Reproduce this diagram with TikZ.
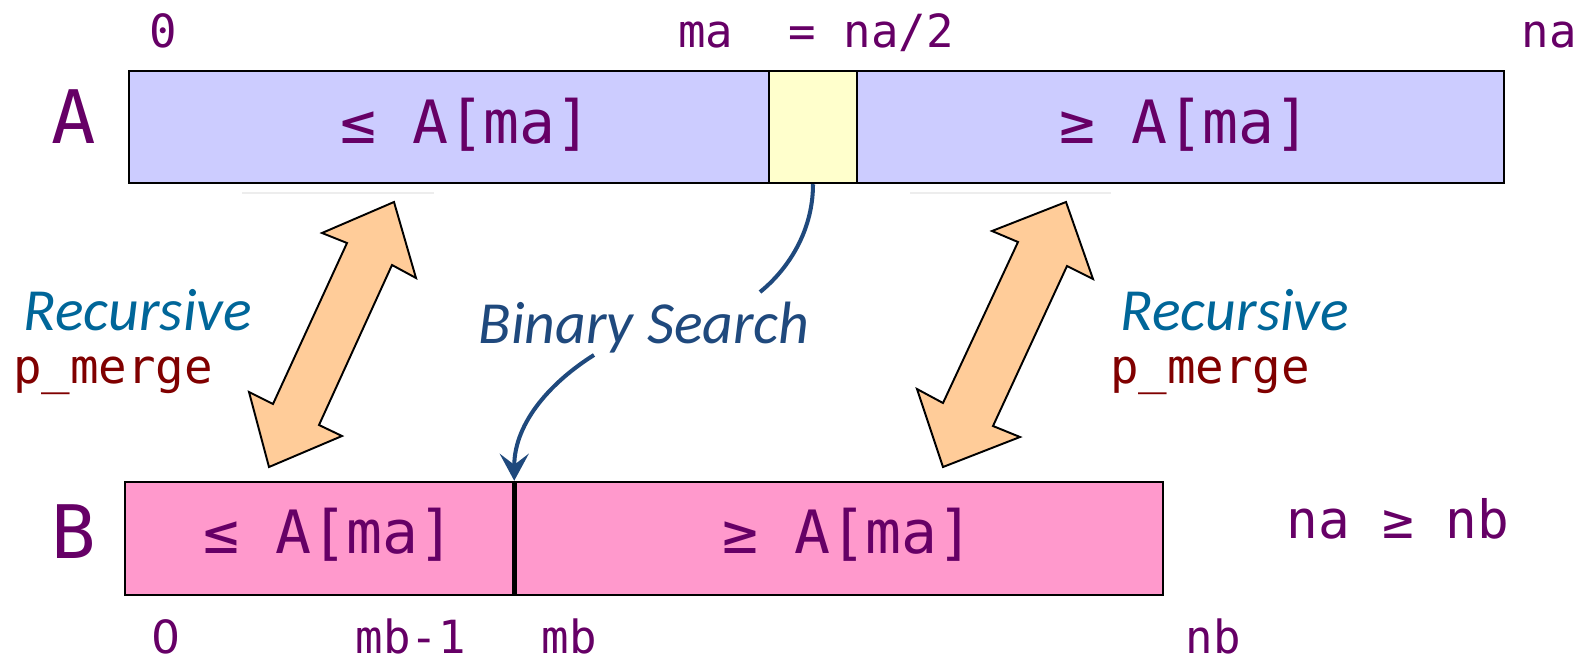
\documentclass[tikz,border=0pt]{standalone}
\usepackage{fontspec}
\setmainfont{Carlito}
\setsansfont{DejaVu Sans}
\setmonofont{DejaVu Sans Mono}
\usepackage{tikz}
\usetikzlibrary{positioning, arrows.meta}

\definecolor{idxpurple}{HTML}{660066}
\definecolor{alofill}{HTML}{CCCCFF}
\definecolor{pivfill}{HTML}{FFFFCC}
\definecolor{bfill}{HTML}{FF99CC}
\definecolor{recblue}{HTML}{006699}
\definecolor{mergered}{HTML}{800000}
\definecolor{searchblue}{HTML}{1F497D}
\definecolor{peach}{HTML}{FFCC99}

\tikzset{
  cell/.style={draw, line width=1.4pt, inner sep=0pt},
  celltext/.style={text=idxpurple, anchor=base, inner sep=0pt,
    font=\ttfamily\fontsize{34}{40}\selectfont},
  idx/.style={text=idxpurple, anchor=base, inner sep=0pt,
    font=\ttfamily\fontsize{26}{30}\selectfont},
  arrname/.style={text=idxpurple, anchor=base, inner sep=0pt,
    font=\ttfamily\fontsize{42}{48}\selectfont},
  rec/.style={text=recblue, anchor=base, inner sep=0pt,
    font=\itshape\fontsize{34}{40}\selectfont},
  pm/.style={text=mergered, anchor=base, inner sep=0pt,
    font=\ttfamily\fontsize{27}{32}\selectfont},
  merge arrow/.style={fill=peach, draw=black, line width=1.1pt, line join=miter},
  search line/.style={draw=searchblue, line width=2.3pt}
}

\begin{document}
\begin{tikzpicture}[x=0.2mm, y=-0.2mm]
    \useasboundingbox (0,0) rectangle (1589,663);

    % Array A
    \node[cell, fill=alofill, minimum width=128mm, minimum height=22.4mm] (Alo) at (449,127) {};
    \node[cell, fill=pivfill, minimum width=17.6mm, minimum height=22.4mm] (pivot) at (813,127) {};
    \node[cell, fill=alofill, minimum width=129.4mm, minimum height=22.4mm] (Ahi) at (1180.5,127) {};
    \node[celltext] (Alot) at (466,143) {≤ A[ma]};
    \node[celltext] (Ahit) at (1185,143) {≥ A[ma]};
    \node[arrname] (Aname) at (74,143) {A};

    % indices of A
    \node[idx] (a0) at (163,47) {0};
    \node[idx] (ama) at (816,47) {ma\ \ = na/2};
    \node[idx] (ana) at (1549,47) {na};

    % Array B
    \node[cell, fill=bfill, minimum width=77.6mm, minimum height=22.6mm] (Blo) at (319,538.5) {};
    \node[cell, fill=bfill, minimum width=130mm, minimum height=22.6mm] (Bhi) at (838,538.5) {};
    \draw[line width=2.8pt] (Blo.north east) -- (Blo.south east);
    \node[celltext] (Blot) at (329,553) {≤ A[ma]};
    \node[celltext] (Bhit) at (848,553) {≥ A[ma]};
    \node[arrname] (Bname) at (74,558) {B};

    % indices of B
    \node[idx, font=\sffamily\fontsize{26}{30}\selectfont] (b0) at (166,653) {0};
    \node[idx] (bmb1) at (411,653) {mb-1};
    \node[idx] (bmb) at (569,653) {mb};
    \node[idx] (bnb) at (1213,653) {nb};
    \node[idx, font=\ttfamily\fontsize{30}{36}\selectfont] (cmp) at (1398,538) {na ≥ nb};

    % faint shadows under A
    \draw[black!7, line width=1.6pt] (242,193) -- (434,193);
    \draw[black!7, line width=1.6pt] (910,193) -- (1111,193);

    % recursive merges
    \filldraw[merge arrow] (394,202) -- (416,278) -- (392,265) -- (319,425) -- (342,436)
        -- (269,467) -- (249,392) -- (273,404) -- (347,243) -- (322,233) -- cycle;
    \filldraw[merge arrow] (1066,202) -- (1093,279) -- (1067,266) -- (993,426) -- (1020,437)
        -- (943,467) -- (917,389) -- (943,403) -- (1018,242) -- (992,231) -- cycle;

    \node[rec] (recl) at (138,330) {Recursive};
    \node[pm] (pml) at (113,383) {p\_merge};
    \node[rec] (recr) at (1235,330) {Recursive};
    \node[pm] (pmr) at (1210,383) {p\_merge};

    % binary search
    \node[rec, text=searchblue] (search) at (644,343) {Binary Search};
    \coordinate (bsTop) at (760,292);
    \coordinate (bsBot) at (594,355);
    \draw[search line] (pivot.south) .. controls +(0,50) and +(25,-20) .. (bsTop);
    \draw[search line, -{Stealth[length=5.4mm, width=5.8mm, inset=2.2mm]}]
        (bsBot) .. controls +(-40,25) and +(0,-60) .. (Blo.north east);
\end{tikzpicture}
\end{document}
